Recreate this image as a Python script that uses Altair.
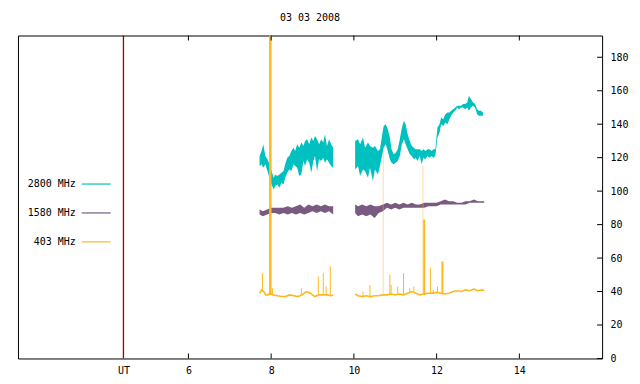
import altair as alt
import pandas as pd

FONT = "DejaVu Sans Mono"
C2800 = "#00c0c0"
C1580 = "#7a5a80"
C403 = "#ffb81c"
CUT = "#a00000"

# ---- 2800 MHz (time in UT hours, band low / high in sfu) ----
t2800_a = [7.72, 7.77, 7.81, 7.86, 7.91, 7.96, 8.01, 8.06, 8.10, 8.15, 8.20, 8.25, 8.30, 8.34,
           8.39, 8.44, 8.49, 8.54, 8.58, 8.63, 8.68, 8.73, 8.78, 8.82, 8.87, 8.92, 8.97, 9.02,
           9.06, 9.11, 9.16, 9.21, 9.26, 9.30, 9.35, 9.40, 9.45, 9.50]
lo2800_a = [115, 116, 114, 116, 112, 108, 104, 101, 103, 104, 102, 105, 104, 108,
            111, 113, 112, 116, 115, 114, 109, 110, 118, 115, 119, 117, 111, 118,
            121, 112, 119, 118, 120, 117, 119, 117, 115, 114]
hi2800_a = [121, 124, 128, 121, 119, 116, 112, 108, 110, 109, 110, 111, 112, 116,
            120, 121, 124, 126, 124, 128, 126, 129, 127, 130, 131, 128, 132, 130,
            133, 131, 128, 131, 129, 134, 127, 131, 128, 126]
t2800_b = [10.03, 10.10, 10.15, 10.22, 10.27, 10.34, 10.39, 10.46, 10.51, 10.58, 10.63, 10.68,
           10.72, 10.77, 10.82, 10.87, 10.91, 10.96, 11.01, 11.06, 11.11, 11.16, 11.21, 11.25,
           11.30, 11.35, 11.40, 11.45, 11.49, 11.54, 11.59, 11.64, 11.68, 11.73, 11.78, 11.83,
           11.88, 11.92, 11.97, 12.02, 12.07, 12.11, 12.16, 12.21, 12.26, 12.31, 12.35, 12.40,
           12.45, 12.50, 12.54, 12.59, 12.64, 12.69, 12.74, 12.78, 12.83, 12.88, 12.93, 12.98,
           13.02, 13.07, 13.12]
lo2800_b = [113, 115, 109, 113, 112, 108, 114, 106, 113, 110, 115, 121,
            126, 128, 124, 119, 117, 116, 117, 118, 121, 128, 131, 128,
            125, 122, 121, 119, 120, 118, 121, 116, 120, 119, 121, 120,
            121, 120, 121, 132, 135, 140, 139, 141, 140, 143, 145, 147,
            148, 150, 149, 150, 150, 149, 150, 148, 150, 151, 150, 146,
            145, 145, 145]
hi2800_b = [130, 131, 128, 132, 126, 129, 127, 126, 127, 124, 125, 133,
            139, 140, 137, 132, 125, 122, 123, 125, 131, 138, 142, 140,
            134, 130, 127, 126, 125, 125, 125, 124, 125, 124, 125, 125,
            124, 125, 125, 138, 140, 144, 143, 146, 147, 147, 148, 149,
            150, 151, 151, 151, 152, 152, 153, 157, 155, 153, 152, 149,
            148, 148, 147]

# ---- 1580 MHz ----
t1580_a = [7.72, 7.80, 7.90, 8.00, 8.10, 8.20, 8.30, 8.40, 8.50, 8.60, 8.70, 8.80, 8.90,
           9.00, 9.10, 9.20, 9.30, 9.40, 9.50]
lo1580_a = [86, 85, 86, 87, 87, 86, 87, 86, 87, 86, 87, 86, 87, 88, 87, 88, 87, 88, 86]
hi1580_a = [89, 88, 89, 90, 90, 90, 90, 91, 90, 91, 92, 90, 92, 91, 92, 91, 92, 91, 91]
t1580_b = [10.03, 10.10, 10.20, 10.30, 10.40, 10.50, 10.60, 10.70, 10.80, 10.90, 11.00,
           11.10, 11.20, 11.30, 11.40, 11.50, 11.60, 11.70, 11.80, 11.90, 12.00, 12.10,
           12.20, 12.30, 12.40, 12.50, 12.60, 12.70, 12.80, 12.90, 13.00, 13.10, 13.15]
lo1580_b = [87, 85, 86, 85, 86, 84, 87, 88, 90, 89, 90, 89, 90, 90, 90, 90, 90, 90, 91, 91,
            91, 92, 92, 92, 92, 92, 92, 92, 93, 93, 93, 93, 93]
hi1580_b = [92, 91, 92, 91, 92, 91, 91, 92, 93, 92, 93, 92, 93, 92, 93, 92, 92, 93, 93, 93,
            93, 94, 95, 94, 94, 93, 93, 94, 94, 95, 94, 94, 94]

# ---- 403 MHz baseline ----
t403_a = [7.72, 7.77, 7.82, 7.87, 7.92, 7.97, 8.05, 8.15, 8.25, 8.35, 8.45, 8.55, 8.65,
          8.75, 8.85, 8.95, 9.05, 9.15, 9.25, 9.35, 9.45, 9.50]
v403_a = [39, 41, 40, 38, 38, 39, 38, 37.5, 37, 37, 38, 37.5, 37, 38, 40, 39, 37, 38, 38,
          38, 37.5, 38]
t403_b = [10.03, 10.10, 10.20, 10.30, 10.40, 10.50, 10.60, 10.70, 10.80, 10.90, 11.00,
          11.10, 11.20, 11.30, 11.40, 11.50, 11.60, 11.70, 11.80, 11.90, 12.00, 12.10,
          12.20, 12.30, 12.40, 12.50, 12.60, 12.70, 12.80, 12.90, 13.00, 13.10, 13.15]
v403_b = [38.5, 37.5, 37, 37.5, 37, 37.5, 37.5, 38, 38, 38.5, 38, 38.5, 38, 39, 40, 39, 38,
          38.5, 39, 39, 39.5, 39, 38.5, 39, 40, 40.5, 40, 41, 40.5, 41.5, 40.5, 41, 40.5]

# ---- 403 MHz spikes ----
spike_t = [7.79, 7.98, 8.03, 8.73, 9.14, 9.26, 9.33, 9.43, 10.22, 10.39, 10.71, 10.87,
           10.90, 11.06, 11.20, 11.35, 11.45, 11.67, 11.70, 11.85, 11.92, 12.02, 12.14]
spike_base = [40, 38, 38, 38, 38, 38, 38, 38, 37, 37, 38, 38, 38, 38, 38, 39, 40, 38, 38,
              39, 39, 39, 39]
spike_top = [51, 200, 42, 42, 49, 51, 43, 55, 40, 44, 126, 50, 44, 43, 51, 42, 43, 115, 83,
             54, 41, 43, 58]
spike_w = [1, 2.5, 1, 1, 1, 1, 1, 1, 1, 1, 1, 1, 1, 1, 1, 1, 1, 1, 2, 1, 1, 1, 2]
spike_op = [1, 1, 1, 1, 1, 1, 1, 1, 1, 1, 0.45, 1, 1, 1, 1, 1, 1, 0.45, 1, 1, 1, 1, 1]

# ---- axes ----
x_ticks = [4.43, 6, 8, 10, 12, 14]
x_minor = [6, 8, 10, 12, 14]
y_ticks = [0, 20, 40, 60, 80, 100, 120, 140, 160, 180]
UT_hour = 4.43
X_DOM = [1.88, 16.0]
Y_DOM = [0, 193]
legend_labels = ["2800 MHz", "1580 MHz", "403 MHz"]
legend_colors = [C2800, C1580, C403]

W, H = 586, 324


def band(ts, lo, hi, seg):
    return pd.DataFrame({"t": ts, "lo": lo, "hi": hi, "seg": seg})


df2800 = pd.concat([band(t2800_a, lo2800_a, hi2800_a, "a"), band(t2800_b, lo2800_b, hi2800_b, "b")])
df1580 = pd.concat([band(t1580_a, lo1580_a, hi1580_a, "a"), band(t1580_b, lo1580_b, hi1580_b, "b")])
df403 = pd.concat([
    pd.DataFrame({"t": t403_a, "v": v403_a, "seg": "a"}),
    pd.DataFrame({"t": t403_b, "v": v403_b, "seg": "b"}),
])
dfsp = pd.DataFrame({"t": spike_t, "b": spike_base, "top": spike_top, "w": spike_w, "op": spike_op})

xs = alt.Scale(domain=X_DOM, nice=False, zero=False)
ys = alt.Scale(domain=Y_DOM, nice=False, zero=False)

x_axis = alt.Axis(values=x_ticks, tickSize=0, grid=False, domain=False, labelOverlap=False,
                  labelExpr="datum.value < 5 ? 'UT' : datum.label", labelFont=FONT,
                  labelFontSize=10, labelColor="black", labelPadding=7, title=None, format="d")
y_axis = alt.Axis(values=y_ticks, orient="right", tickSize=0, grid=False, domain=False,
                  labelOverlap=False, labelFont=FONT, labelFontSize=10, labelColor="black",
                  labelPadding=8, title=None)


def X(f):
    return alt.X(f, scale=xs, axis=x_axis)


def Y(f):
    return alt.Y(f, scale=ys, axis=y_axis)


ut = alt.Chart(pd.DataFrame({"t": [UT_hour]})).mark_rule(
    stroke=CUT, color=CUT, strokeWidth=1.3, opacity=1).encode(x=X("t:Q"))

a2800 = alt.Chart(df2800).mark_area(color=C2800, opacity=1, clip=True).encode(
    x=X("t:Q"), y=Y("lo:Q"), y2="hi:Q", detail="seg:N")
a1580 = alt.Chart(df1580).mark_area(color=C1580, opacity=1, clip=True).encode(
    x=X("t:Q"), y=Y("lo:Q"), y2="hi:Q", detail="seg:N")
l403 = alt.Chart(df403).mark_line(color=C403, strokeWidth=1.6, clip=True).encode(
    x=X("t:Q"), y=Y("v:Q"), detail="seg:N")
s403 = alt.Chart(dfsp).mark_rule(color=C403, clip=True).encode(
    x=X("t:Q"), y=Y("b:Q"), y2="top:Q",
    strokeWidth=alt.StrokeWidth("w:Q", scale=None, legend=None),
    opacity=alt.Opacity("op:Q", scale=None, legend=None))

# inward ticks
dft = pd.DataFrame({"t": x_minor})
tick_b = alt.Chart(dft).mark_rule(color="black").encode(
    x=X("t:Q"), y=alt.value(H), y2=alt.value(H - 5))
tick_t = alt.Chart(dft).mark_rule(color="black").encode(
    x=X("t:Q"), y=alt.value(0), y2=alt.value(5))
tick_r = alt.Chart(pd.DataFrame({"v": y_ticks})).mark_rule(color="black").encode(
    y=Y("v:Q"), x=alt.value(W), x2=alt.value(W - 5))

# legend
legend_layers = []
for i, (lab, col) in enumerate(zip(legend_labels, legend_colors)):
    yy = 149 + 29 * i
    one = pd.DataFrame({"label": [lab]})
    legend_layers.append(alt.Chart(one).mark_text(align="right", baseline="middle", font=FONT,
                                                  fontSize=10, color="black").encode(
        text="label:N", x=alt.value(58), y=alt.value(yy)))
    legend_layers.append(alt.Chart(one).mark_rule(color=col, strokeWidth=1.2).encode(
        x=alt.value(64), x2=alt.value(93), y=alt.value(yy)))

chart = alt.layer(ut, a2800, a1580, l403, s403, tick_b, tick_t, tick_r, *legend_layers).properties(
    width=W, height=H,
    title=alt.TitleParams("03 03 2008", font=FONT, fontSize=10, fontWeight="normal",
                          anchor="middle", color="black", offset=12),
    padding={"left": 10, "top": 27, "right": 30, "bottom": 24},
    autosize=alt.AutoSizeParams(type="none"),
).configure(background="white", view=alt.ViewConfig(stroke="black", strokeWidth=1))

chart.save("out.html", embed_options={"renderer": "svg", "actions": False})
